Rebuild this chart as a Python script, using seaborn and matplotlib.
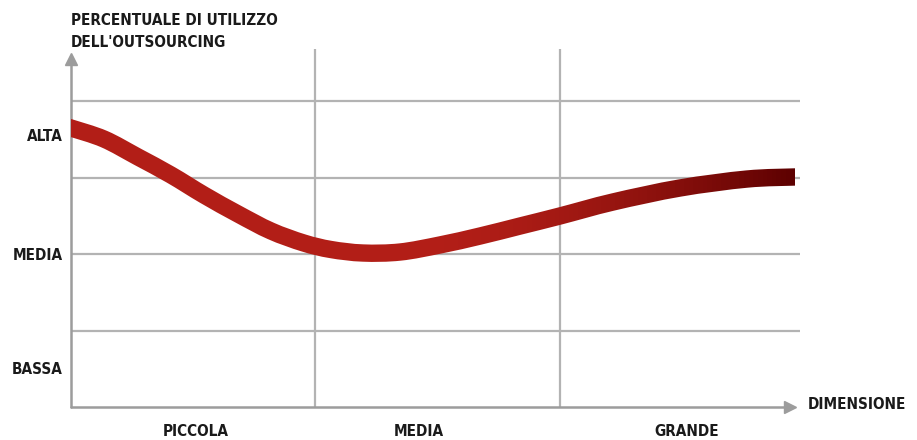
import numpy as np
import matplotlib
matplotlib.use("Agg")
import matplotlib.pyplot as plt
import seaborn as sns
from matplotlib import font_manager as fm
from matplotlib.path import Path
from matplotlib.patches import PathPatch
from matplotlib.transforms import Bbox, TransformedBbox
from matplotlib.colors import to_rgb

# Company size (x, 0..3) vs. level of outsourcing use (y, 0..4)
size_pos = [0.0, 0.135, 0.274, 0.409, 0.544, 0.683, 0.818, 0.952, 1.063,
            1.194, 1.346, 1.509, 1.673, 1.837, 2.0, 2.217, 2.491, 2.765, 2.961]
usage_level = [3.647, 3.503, 3.268, 3.033, 2.771, 2.523, 2.301, 2.144, 2.059,
               2.013, 2.026, 2.118, 2.235, 2.366, 2.497, 2.680, 2.863, 2.980, 3.007]

size_labels = ["PICCOLA", "MEDIA", "GRANDE"]
size_label_pos = [0.511, 1.423, 2.519]
level_labels = ["BASSA", "MEDIA", "ALTA"]
level_label_pos = [0.51, 2.0, 3.56]

y_title = "PERCENTUALE DI UTILIZZO\nDELL'OUTSOURCING"
x_title = "DIMENSIONE"

sns.set_theme(style="white")

# pick a narrow bold face if one is available
installed = fm.fontManager.ttflist
names = {f.name for f in installed}
if "Liberation Sans Narrow" in names:
    FAMILY, STRETCH, FS = "Liberation Sans Narrow", "normal", 12.5
elif any(f.name == "DejaVu Sans" and f.stretch == "condensed" for f in installed):
    FAMILY, STRETCH, FS = "DejaVu Sans", "condensed", 11
else:
    FAMILY, STRETCH, FS = "Liberation Sans", "normal", 11
plt.rcParams["font.family"] = [FAMILY, "DejaVu Sans"]
plt.rcParams["font.stretch"] = STRETCH
plt.rcParams["font.weight"] = "bold"

W, H, DPI = 917, 440, 100
fig = plt.figure(figsize=(W / DPI, H / DPI), dpi=DPI)
ax = fig.add_axes([71 / W, 33 / H, 729 / W, 358 / H])
ax.set_xlim(0, 2.982)
ax.set_ylim(0, 4.68)
for s in ax.spines.values():
    s.set_visible(False)

GRID = "#b3b3b3"
AXIS = "#9c9c9c"
TEXT = "#1a1a1a"

for yv in [1, 2, 3, 4]:
    ax.axhline(yv, color=GRID, lw=1.6, zorder=1)
for xv in [1, 2]:
    ax.axvline(xv, color=GRID, lw=1.6, zorder=1)

# axis lines with arrow heads
ax.plot([0, 0], [0, 4.53], color=AXIS, lw=1.8, clip_on=False, zorder=2)
ax.plot([0, 2.94], [0, 0], color=AXIS, lw=1.8, clip_on=False, zorder=2)
ax.plot([0], [4.55], marker="^", ms=9, color=AXIS, clip_on=False, zorder=2)
ax.plot([2.94], [0], marker=">", ms=9, color=AXIS, clip_on=False, zorder=2)

# smooth curve through the points (Catmull-Rom as cubic Bezier segments)
P = np.column_stack([size_pos, usage_level])
Pe = np.vstack([P[0], P, P[-1]])
verts = [tuple(P[0])]
codes = [Path.MOVETO]
for i in range(1, len(Pe) - 2):
    p0, p1, p2, p3 = Pe[i - 1], Pe[i], Pe[i + 1], Pe[i + 2]
    c1 = p1 + (p2 - p0) / 6.0
    c2 = p2 - (p3 - p1) / 6.0
    verts += [tuple(c1), tuple(c2), tuple(p2)]
    codes += [Path.CURVE4] * 3
curve = Path(verts, codes)

RED = "#b21e17"
DARK = "#5c0000"
LW = 12.5
c0, c1 = np.array(to_rgb(RED)), np.array(to_rgb(DARK))
x_end = size_pos[-1]
fade_start = 1.45
edges = [0.0] + list(np.linspace(fade_start, x_end, 81))
for lo, hi in zip(edges[:-1], edges[1:]):
    mid = (lo + hi) / 2
    f = np.clip((mid - fade_start) / (x_end - fade_start), 0, 1) ** 1.7
    col = tuple(c0 + f * (c1 - c0)) if lo > 0 else RED
    patch = PathPatch(curve, facecolor="none", edgecolor=col, lw=LW,
                      capstyle="projecting", joinstyle="round", zorder=3)
    ax.add_patch(patch)
    patch.set_clip_box(TransformedBbox(Bbox([[lo, -1], [hi, 10]]), ax.transData))

ax.set_xticks(size_label_pos)
ax.set_xticklabels(size_labels)
ax.set_yticks(level_label_pos)
ax.set_yticklabels(level_labels)
ax.tick_params(axis="x", length=0, pad=12, labelsize=FS, labelcolor=TEXT)
ax.tick_params(axis="y", length=0, pad=6, labelsize=FS, labelcolor=TEXT)
for lab in ax.get_xticklabels() + ax.get_yticklabels():
    lab.set_fontweight("bold")
ax.set_xlabel("")
ax.set_ylabel("")

fig.text(71 / W, 1 - 13 / H, y_title, ha="left", va="top", fontsize=FS,
         fontweight="bold", color=TEXT, linespacing=1.55)
fig.text(808 / W, 1 - 404 / H, x_title, ha="left", va="center", fontsize=FS,
         fontweight="bold", color=TEXT)

fig.savefig("out.png", dpi=DPI)
